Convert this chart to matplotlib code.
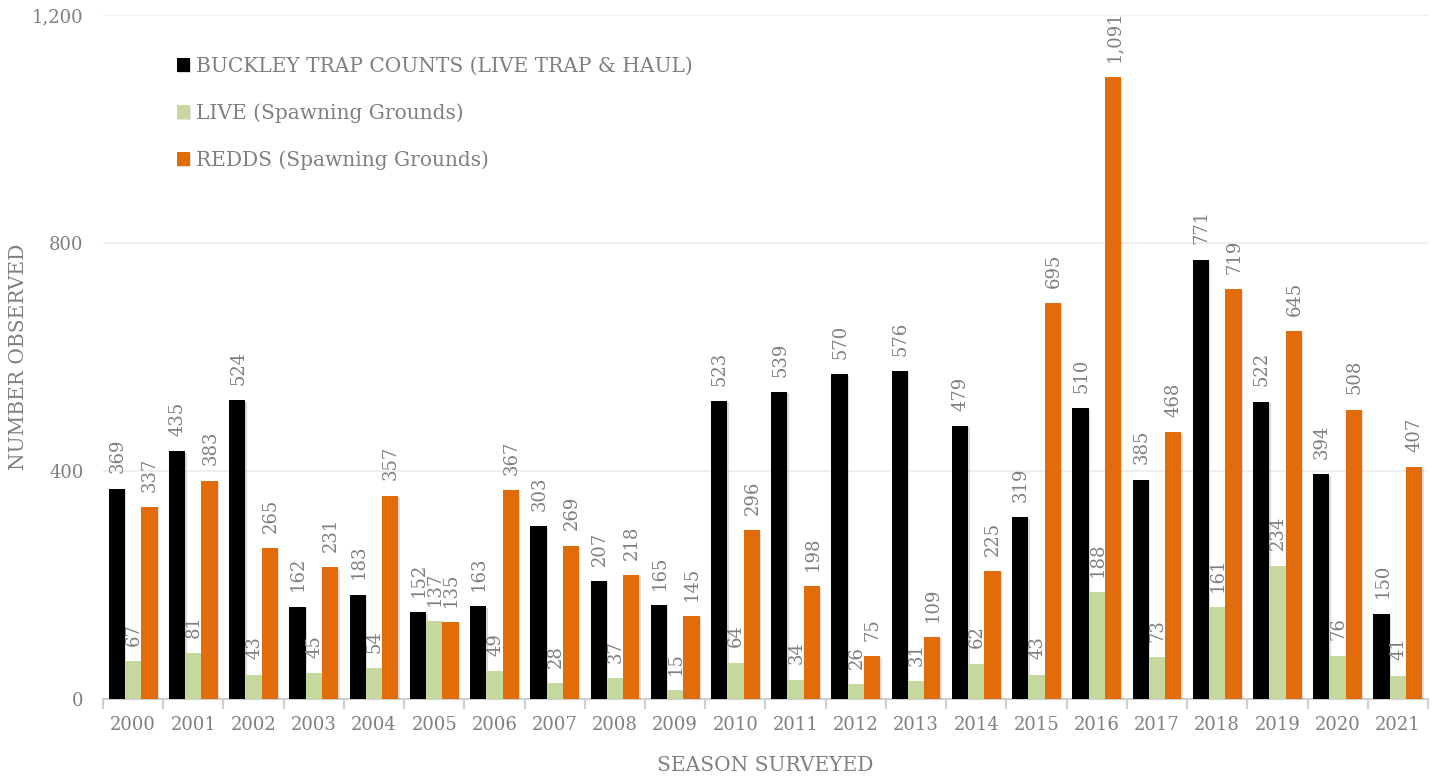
import numpy as np
import matplotlib.pyplot as plt
import matplotlib.patheffects as pe
from matplotlib.ticker import FuncFormatter, FixedLocator

years = [str(y) for y in range(2000, 2022)]
buckley = [369, 435, 524, 162, 183, 152, 163, 303, 207, 165, 523, 539, 570, 576, 479, 319, 510, 385, 771, 522, 394, 150]
live = [67, 81, 43, 45, 54, 137, 49, 28, 37, 15, 64, 34, 26, 31, 62, 43, 188, 73, 161, 234, 76, 41]
redds = [337, 383, 265, 231, 357, 135, 367, 269, 218, 145, 296, 198, 75, 109, 225, 695, 1091, 468, 719, 645, 508, 407]

names = ["BUCKLEY TRAP COUNTS (LIVE TRAP & HAUL)", "LIVE (Spawning Grounds)", "REDDS (Spawning Grounds)"]
colors = ["#000000", "#c5d89e", "#e36c0a"]
gray = "#7f7f7f"

plt.rcParams['font.family'] = ['DejaVu Serif']

fig = plt.figure(figsize=(14.37, 7.78), dpi=100)
ax = fig.add_axes([0.0717, 0.1015, 0.922, 0.879])

x = np.arange(len(years))
w = 0.27
shadow = [pe.SimplePatchShadow(offset=(1, -1), alpha=0.15), pe.Normal()]
for i, (vals, c, n) in enumerate(zip([buckley, live, redds], colors, names)):
    bars = ax.bar(x + (i - 1) * w, vals, width=w, color=c, label=n, zorder=3)
    for b in bars:
        b.set_path_effects(shadow)
    for xi, v in zip(x + (i - 1) * w, vals):
        ax.annotate(f"{v:,}", (xi, v), xytext=(0.5, 11), textcoords="offset points",
                    rotation=90, ha="center", va="bottom", fontsize=13, color=gray, zorder=4)

ax.set_xlim(-0.5, len(years) - 0.5)
ax.set_ylim(0, 1200)
ax.set_yticks([0, 400, 800, 1200])
ax.yaxis.set_major_formatter(FuncFormatter(lambda v, p: f"{int(v):,}"))
ax.grid(axis="y", color="#ececec", linewidth=1.2, zorder=0)
ax.set_xticks(x)
ax.set_xticklabels(years)
ax.xaxis.set_minor_locator(FixedLocator(np.arange(-0.5, len(years), 1)))
ax.tick_params(axis="x", which="major", length=0, pad=12, labelsize=13, labelcolor=gray)
ax.tick_params(axis="x", which="minor", length=7, color="#d0d0d0", width=1.5)
ax.tick_params(axis="y", length=0, pad=14, labelsize=13, labelcolor=gray)
for s in ["top", "right", "left"]:
    ax.spines[s].set_visible(False)
ax.spines["bottom"].set_color("#d0d0d0")
ax.spines["bottom"].set_linewidth(1.5)

ax.set_xlabel("SEASON SURVEYED", fontsize=14.5, color=gray)
ax.set_ylabel("NUMBER OBSERVED", fontsize=14.5, color=gray)
ax.xaxis.set_label_coords(0.5, -0.0965)
ax.yaxis.set_label_coords(-0.064, 0.5)
ax.xaxis.label.set_va("center")
ax.yaxis.label.set_va("center")

ax.legend(loc="upper left", bbox_to_anchor=(0.042, 0.965), frameon=False, fontsize=14.5,
          labelcolor=gray, handlelength=0.65, handleheight=0.65, handletextpad=0.3,
          labelspacing=1.35)

fig.savefig("out.png", dpi=100)
